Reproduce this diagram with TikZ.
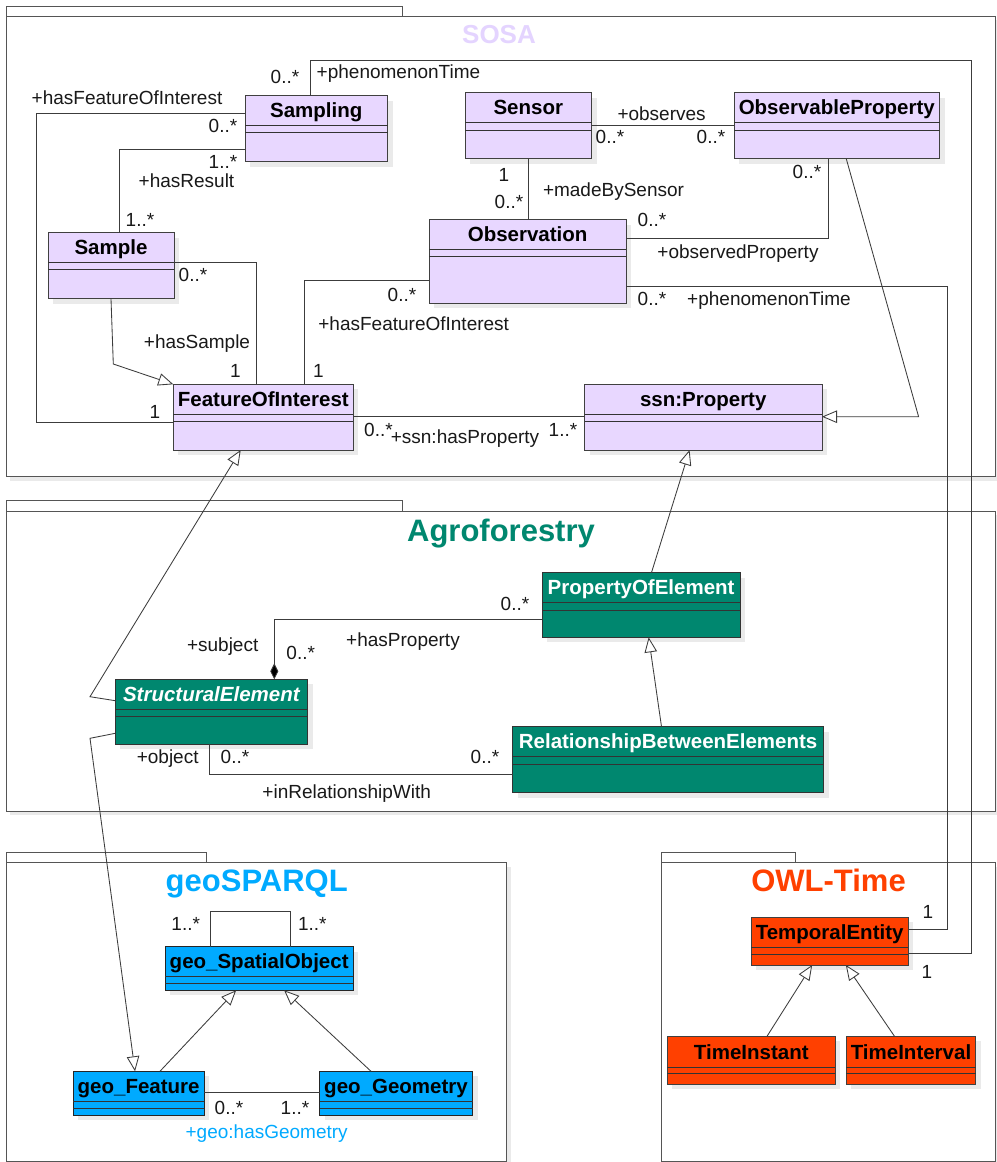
\documentclass[tikz,border=0pt]{standalone}
\usepackage{fontspec}
\setmainfont{Liberation Sans}
\usetikzlibrary{arrows.meta}
\definecolor{sosaf}{RGB}{232,215,255}
\definecolor{sosat}{RGB}{228,212,255}
\definecolor{agro}{RGB}{0,135,111}
\definecolor{geo}{RGB}{0,170,255}
\definecolor{owl}{RGB}{255,64,0}
\definecolor{linec}{RGB}{60,60,60}
\definecolor{pkgc}{RGB}{85,85,85}
\definecolor{shad}{RGB}{234,234,234}
\newcommand\umlclass[9]{%
  \fill[shad] ({#2+5},{#3+5}) rectangle ({#4+5},{#5+5});
  \node[#8, anchor=north west, minimum width={#4-#2}, minimum height={#5-#3}] (#1) at (#2,#3) {};
  \draw[boxline] (#2,#6) -- (#4,#6) (#2,#7) -- (#4,#7);
  \node[ctitle, #8t] (#1-t) at ({(#2+#4)/2},{#6-8}) {#9};
}
\begin{document}
\begin{tikzpicture}[x=1pt,y=-1pt,
  boxline/.style={draw=black!80, line width=0.8pt},
  sosab/.style={fill=sosaf, draw=black!75, line width=0.8pt, inner sep=0pt, outer sep=0pt},
  agrob/.style={fill=agro, draw=black!80, line width=0.8pt, inner sep=0pt, outer sep=0pt},
  geob/.style={fill=geo, draw=black!85, line width=0.8pt, inner sep=0pt, outer sep=0pt},
  owlb/.style={fill=owl, draw=black!75, line width=0.8pt, inner sep=0pt, outer sep=0pt},
  sosabt/.style={text=black}, agrobt/.style={text=white},
  geobt/.style={text=black}, owlbt/.style={text=black},
  ctitle/.style={font=\fontsize{20.5}{24}\selectfont\bfseries, anchor=base, inner sep=0pt},
  pkgtitle/.style={font=\fontsize{31}{36}\selectfont\bfseries, anchor=base, inner sep=0pt},
  pkg/.style={draw=pkgc, line width=0.9pt, fill=white},
  lbl/.style={font=\fontsize{19}{22}\selectfont, text height=13.6pt, text depth=0pt, inner sep=0pt, text=black!90},
  assoc/.style={draw=linec, line width=0.85pt},
  gen/.style={draw=linec, line width=0.85pt, -{Triangle[open, length=15pt, width=12.5pt, fill=white]}},
  comp/.style={draw=linec, line width=0.85pt, -{Diamond[length=16pt, width=8pt, fill=black]}}
]
\useasboundingbox (0,0) rectangle (996,1162);
\fill[white] (0,0) rectangle (996,1162);

% ---------- packages ----------
\fill[shad] (10,20) rectangle (999,480.5);
\draw[pkg] (6,6) rectangle (402,16);
\draw[pkg] (6,16) rectangle (995,476.5);
\node[pkgtitle, font=\fontsize{26}{30}\selectfont\bfseries, text=sosat] (sosa-t) at (499,43) {SOSA};

\fill[shad] (10,515) rectangle (999,815);
\draw[pkg] (6,500.7) rectangle (402,511);
\draw[pkg] (6,511) rectangle (995,811);
\node[pkgtitle, text=agro] (agro-t) at (501,541.5) {Agroforestry};

\fill[shad] (10,866.7) rectangle (510.7,1166);
\draw[pkg] (6,852) rectangle (206.7,862.7);
\draw[pkg] (6,862.7) rectangle (506.7,1161.5);
\node[pkgtitle, text=geo] (geo-t) at (256.7,891.5) {geoSPARQL};

\fill[shad] (665.7,866.7) rectangle (999,1166);
\draw[pkg] (661.7,852) rectangle (795,862.7);
\draw[pkg] (661.7,862.7) rectangle (995,1161.5);
\node[pkgtitle, text=owl] (owl-t) at (828.5,891.5) {OWL-Time};

% ---------- classes ----------
\umlclass{samp}{245}{95.5}{387.5}{161.5}{125.3}{132.5}{sosab}{Sampling}
\umlclass{sens}{465}{92.7}{591.5}{158.7}{122.7}{130}{sosab}{Sensor}
\umlclass{obsp}{734}{92.7}{939.5}{158.7}{122.7}{130}{sosab}{ObservableProperty}
\umlclass{sample}{48}{232.7}{174}{298.7}{262}{269.5}{sosab}{Sample}
\umlclass{obs}{429.3}{219.7}{626}{303}{249}{256.5}{sosab}{Observation}
\umlclass{foi}{173.3}{384.3}{353.3}{450}{414}{421.3}{sosab}{FeatureOfInterest}
\umlclass{ssnp}{584.5}{384.3}{822}{450}{414}{421.3}{sosab}{ssn:Property}
\umlclass{poe}{542.3}{572.7}{740}{637.3}{602.7}{610}{agrob}{PropertyOfElement}
\umlclass{se}{115}{679.3}{307.7}{744}{709}{716.7}{agrob}{\itshape StructuralElement}
\umlclass{rbe}{512.7}{726.7}{823.5}{792.7}{756.7}{764.3}{agrob}{RelationshipBetweenElements}
\umlclass{gso}{165}{946.7}{353.3}{990.3}{976}{983.3}{geob}{geo\_SpatialObject}
\umlclass{gfeat}{73.3}{1071.3}{204}{1115.3}{1101.7}{1108.3}{geob}{geo\_Feature}
\umlclass{ggeom}{319.5}{1071.3}{472.5}{1115.3}{1101.7}{1108.3}{geob}{geo\_Geometry}
\umlclass{te}{751}{917.3}{908.3}{965}{947.3}{954.3}{owlb}{TemporalEntity}
\umlclass{ti}{667.3}{1036.3}{835.3}{1084}{1067}{1073.3}{owlb}{TimeInstant}
\umlclass{tint}{846.3}{1036.3}{975.7}{1084}{1067}{1073.3}{owlb}{TimeInterval}

% ---------- bend points ----------
\coordinate (p1) at (310,60);
\coordinate (p2) at (971.5,60);
\coordinate (p3) at (971.5,953.3);
\coordinate (q1) at (947.5,286);
\coordinate (q2) at (947.5,929.3);
\coordinate (r1) at (36,113.7);
\coordinate (r2) at (36,422.7);
\coordinate (s1) at (119.5,149.3);
\coordinate (t1) at (256.7,262.3);
\coordinate (u1) at (113.3,364);
\coordinate (v1) at (600,125.7);
\coordinate (w1) at (828.7,238);
\coordinate (x1) at (304.3,280.3);
\coordinate (y2) at (918.6,416.7);
\coordinate (z1) at (400,416.7);
\coordinate (a1) at (90,696.7);
\coordinate (b1) at (274.3,619.3);
\coordinate (c1) at (209.3,774.3);
\coordinate (d1) at (90,738.3);
\coordinate (e1) at (210.3,911.3);
\coordinate (e2) at (290.3,911.3);
\coordinate (f1) at (260,1092.7);

% ---------- connectors ----------
\draw[assoc] (samp.north -| p1) -- (p1) -- (p2) -- (p3) -- (te.east |- p3);
\draw[assoc] (obs.east |- q1) -- (q1) -- (q2) -- (te.east |- q2);
\draw[assoc] (samp.west |- r1) -- (r1) -- (r2) -- (foi.west |- r2);
\draw[assoc] (samp.west |- s1) -- (s1) -- (sample.north -| s1);
\draw[assoc] (sample.east |- t1) -- (t1) -- (foi.north -| t1);
\draw[gen] (sample.south) -- (u1) -- (foi.north west);
\draw[assoc] (sens.east |- v1) -- (obsp.west |- v1);
\draw[assoc] (sens.south) -- (obs.north -| sens.south);
\draw[assoc] (obs.east |- w1) -- (w1) -- (obsp.south -| w1);
\draw[assoc] (obs.west |- x1) -- (x1) -- (foi.north -| x1);
\draw[gen] ([xshift=9.5]obsp.south) -- (y2) -- (ssnp.east |- y2);
\draw[assoc] (foi.east |- z1) -- (ssnp.west |- z1);
\draw[gen] ([yshift=11]se.west) -- (a1) -- ([xshift=-22.6]foi.south);
\draw[gen] ([xshift=10.3]poe.north) -- ([xshift=-13.7]ssnp.south);
\draw[comp] (poe.west |- b1) -- (b1) -- (se.north -| b1);
\draw[assoc] (se.south -| c1) -- (c1) -- (rbe.west |- c1);
\draw[gen] ([xshift=-6.6]rbe.north) -- ([xshift=7.5]poe.south);
\draw[gen] ([yshift=-21.7]se.west) -- (d1) -- ([xshift=-3.6]gfeat.north);
\draw[assoc] (gso.north -| e1) -- (e1) -- (e2) -- (gso.north -| e2);
\draw[gen] ([xshift=21.3]gfeat.north) -- ([xshift=-23]gso.south);
\draw[gen] ([xshift=-25]ggeom.north) -- ([xshift=25]gso.south);
\draw[assoc] (gfeat.east |- f1) -- (ggeom.west |- f1);
\draw[gen] ([xshift=15.7]ti.north) -- ([xshift=-17.5]te.south);
\draw[gen] ([xshift=-16.5]tint.north) -- ([xshift=16.2]te.south);

% ---------- labels: SOSA ----------
\node[lbl] (la1) at (285,77) {0..*};
\node[lbl] (la2) at (398.5,72) {+phenomenonTime};
\node[lbl] (la3) at (127,97.5) {+hasFeatureOfInterest};
\node[lbl] (la4) at (223,126) {0..*};
\node[lbl] (la5) at (223,162) {1..*};
\node[lbl] (la6) at (186.5,180.5) {+hasResult};
\node[lbl] (la7) at (140,220) {1..*};
\node[lbl] (la8) at (661.6,113.3) {+observes};
\node[lbl] (la9) at (610,136.7) {0..*};
\node[lbl] (la10) at (711,136.7) {0..*};
\node[lbl] (la11) at (504,175) {1};
\node[lbl] (la12) at (613.5,190) {+madeBySensor};
\node[lbl] (la13) at (509,201.7) {0..*};
\node[lbl] (la14) at (807,171.7) {0..*};
\node[lbl] (la15) at (652,220) {0..*};
\node[lbl] (la16) at (738,252) {+observedProperty};
\node[lbl] (la17) at (652,299) {0..*};
\node[lbl] (la18) at (769,299) {+phenomenonTime};
\node[lbl] (la19) at (193,275) {0..*};
\node[lbl] (la20) at (402,295) {0..*};
\node[lbl] (la21) at (413.7,324) {+hasFeatureOfInterest};
\node[lbl] (la22) at (197,341.7) {+hasSample};
\node[lbl] (la23) at (235.3,371) {1};
\node[lbl] (la24) at (318.3,371) {1};
\node[lbl] (la25) at (155,412) {1};
\node[lbl] (la26) at (378.5,430) {0..*};
\node[lbl] (la27) at (465,437) {+ssn:hasProperty};
\node[lbl] (la28) at (563,430) {1..*};
% ---------- labels: Agroforestry ----------
\node[lbl] (lb1) at (515,603.3) {0..*};
\node[lbl] (lb2) at (222.7,645) {+subject};
\node[lbl] (lb3) at (300.7,653) {0..*};
\node[lbl] (lb4) at (403,640) {+hasProperty};
\node[lbl] (lb5) at (167.7,757) {+object};
\node[lbl] (lb6) at (235,757) {0..*};
\node[lbl] (lb7) at (485,757) {0..*};
\node[lbl] (lb8) at (346.7,791.7) {+inRelationshipWith};
% ---------- labels: geoSPARQL ----------
\node[lbl] (lc1) at (185.7,924) {1..*};
\node[lbl] (lc2) at (312.3,924) {1..*};
\node[lbl] (lc3) at (229,1108) {0..*};
\node[lbl] (lc4) at (295,1108) {1..*};
\node[lbl, text=geo] (lc5) at (266.7,1132) {+geo:hasGeometry};
% ---------- labels: OWL-Time ----------
\node[lbl] (ld1) at (928,912) {1};
\node[lbl] (ld2) at (927,971.7) {1};
\end{tikzpicture}
\end{document}
